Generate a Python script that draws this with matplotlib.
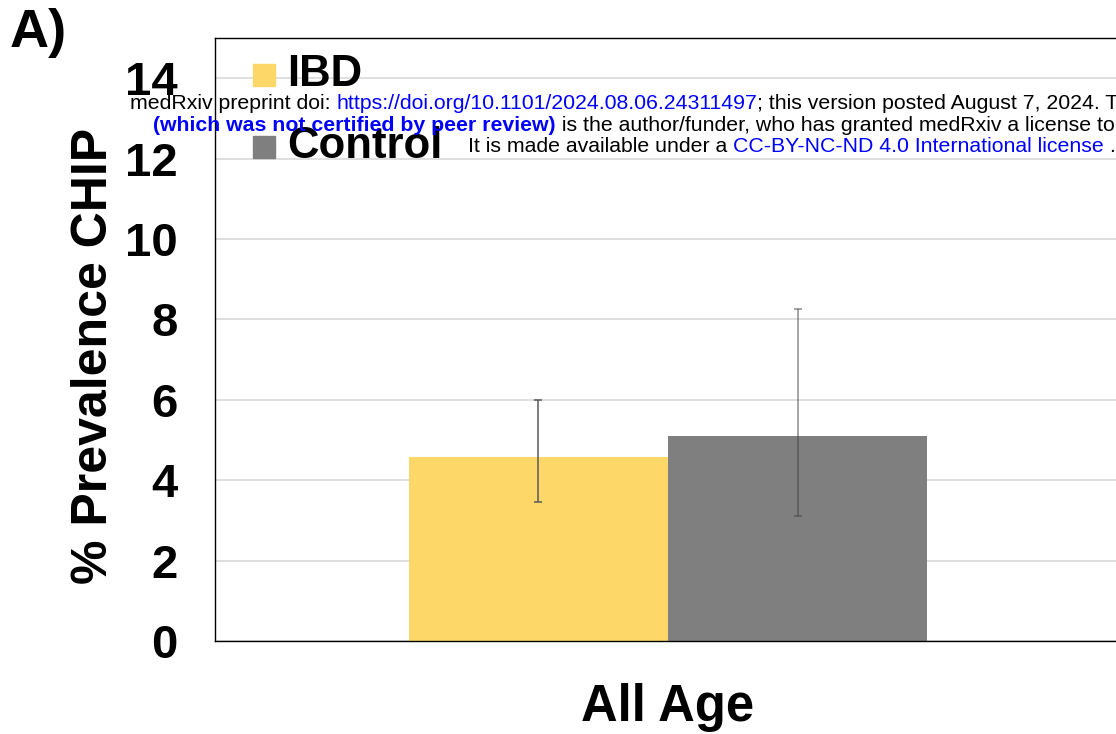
import matplotlib
matplotlib.use("Agg")
import matplotlib.pyplot as plt
from matplotlib.patches import Rectangle

plt.rcParams['font.family'] = ['Liberation Sans', 'DejaVu Sans']

# данні
groups = ['IBD', 'Control']
prevalence = [4.57, 5.10]
err_low = [3.45, 3.10]
err_high = [6.00, 8.26]
colors = ['#FDD868', '#7F7F7F']
err_colors = ['#595959', '#404040']
err_alpha = [1.0, 0.6]
category = 'All Age'
yticks = [0, 2, 4, 6, 8, 10, 12, 14]

fig = plt.figure(figsize=(11.16, 7.34), dpi=100)
ax = fig.add_axes([0.1927, 0.1267, 0.8118, 0.8215])

w = 0.286
offsets = [-w / 2, w / 2]
for i in range(len(groups)):
    ax.bar(offsets[i], prevalence[i], width=w, color=colors[i], zorder=2)
    ax.errorbar(offsets[i], prevalence[i],
                yerr=[[prevalence[i] - err_low[i]], [err_high[i] - prevalence[i]]],
                fmt='none', ecolor=err_colors[i], alpha=err_alpha[i],
                elinewidth=1.1, capsize=2.6, capthick=1.1, zorder=3)

ax.set_xlim(-0.5, 0.5)
ax.set_ylim(0, 15)
ax.set_yticks(yticks)
ax.set_yticklabels([str(t) for t in yticks], fontsize=34, fontweight='bold')
ax.tick_params(axis='y', length=0, pad=27)
ax.set_xticks([0])
ax.set_xticklabels([category], fontsize=36.5, fontweight='bold')
ax.tick_params(axis='x', length=0, pad=30)
ax.grid(axis='y', color='#D9D9D9', linewidth=1.2, zorder=0)
ax.set_axisbelow(True)
for s in ax.spines.values():
    s.set_linewidth(1.0)
    s.set_color('black')

ax.set_ylabel('% Prevalence CHIP', fontsize=36, fontweight='bold')
ax.yaxis.set_label_coords(-0.108, 0.4726)

# легенда
leg_y = [75, 147]
for i, g in enumerate(groups):
    yy = 1 - leg_y[i] / 734
    fig.patches.append(Rectangle((253 / 1116, yy - 11 / 734), 22 / 1116, 22 / 734,
                                 transform=fig.transFigure, color=colors[i], zorder=5))
    fig.text(287 / 1116, yy, g, fontsize=31.5, fontweight='bold', va='center', zorder=5)

fig.text(10 / 1116, 1 - 47 / 734, 'A)', fontsize=39, fontweight='bold', va='baseline')

# водяний знак medRxiv
blue = '#0000FF'
lines = [
    (130, 109, [('medRxiv preprint doi: ', 'black', 'normal'),
                ('https://doi.org/10.1101/2024.08.06.24311497', blue, 'normal'),
                ('; this version posted August 7, 2024. The copyright holder for this preprint', 'black', 'normal')]),
    (153, 131, [('(which was not certified by peer review)', blue, 'bold'),
                (' is the author/funder, who has granted medRxiv a license to display the preprint in perpetuity.', 'black', 'normal')]),
    (468, 152, [('It is made available under a ', 'black', 'normal'),
                ('CC-BY-NC-ND 4.0 International license', blue, 'normal'),
                (' .', 'black', 'normal')]),
]
renderer = fig.canvas.get_renderer()
for x0, y0, parts in lines:
    x = x0
    for s, c, fw in parts:
        t = fig.text(x / 1116, 1 - y0 / 734, s, fontsize=15.3, color=c,
                     fontweight=fw, va='baseline', zorder=10)
        bb = t.get_window_extent(renderer)
        x = bb.x1

fig.savefig('out.png', dpi=100)
